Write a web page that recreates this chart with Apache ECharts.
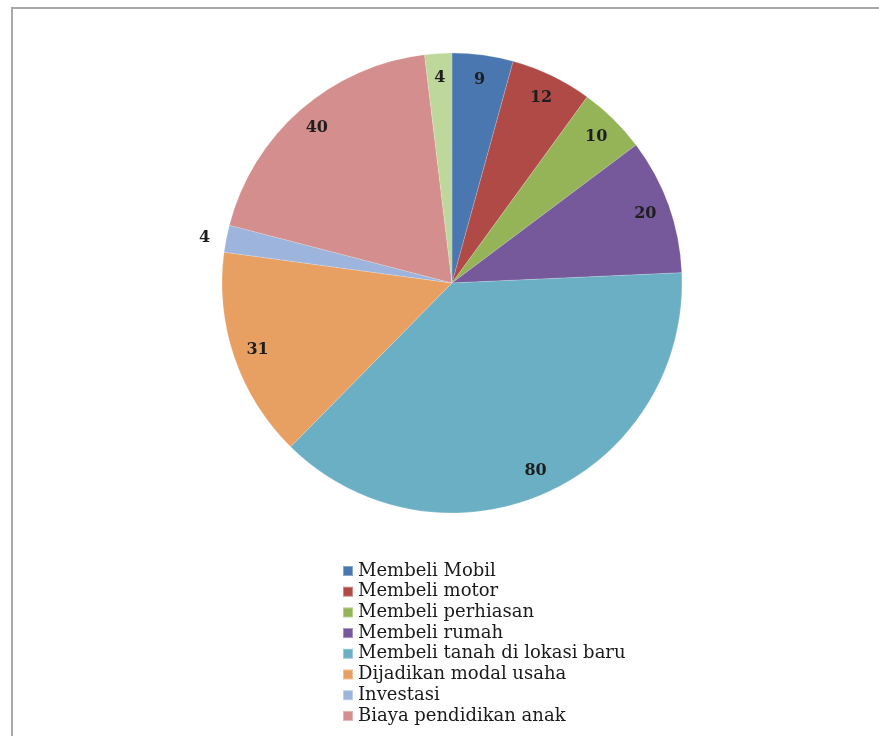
<!DOCTYPE html>
<html>
<head>
<meta charset="utf-8">
<script src="https://cdn.jsdelivr.net/npm/echarts@6/dist/echarts.min.js"></script>
<style>
  html, body { margin: 0; padding: 0; background: #ffffff; }
  #chart { position: absolute; left: 0; top: 0; width: 879px; height: 736px; }
  #frame { position: absolute; left: 11px; top: 7px; width: 880px; height: 740px;
           border-left: 2px solid #a9a9a9; border-top: 2px solid #a9a9a9; pointer-events: none; }
</style>
</head>
<body>
<div id="chart"></div>
<div id="frame"></div>
<script>
const categories = [
  'Membeli Mobil',
  'Membeli motor',
  'Membeli perhiasan',
  'Membeli rumah',
  'Membeli tanah di lokasi baru',
  'Dijadikan modal usaha',
  'Investasi',
  'Biaya pendidikan anak',
  'Lainnya'
];
const values = [9, 12, 10, 20, 80, 31, 4, 40, 4];
const legendNames = categories.slice(0, 8);
const colors = ['#4A77B0', '#B04A47', '#94B457', '#75599A', '#6AAFC4', '#E8A062', '#9DB5DD', '#D48E8D', '#BDD89A'];

const chart = echarts.init(document.getElementById('chart'), null, { renderer: 'canvas' });

const R = 230;
const center = [452, 283];

const baseData = categories.map((n, i) => ({ name: n, value: values[i] }));
const labelData = categories.map((n, i) => {
  const d = { name: n, value: values[i] };
  if (n === 'Investasi') {
    d.label = { position: 'outside', distance: 0 };
    d.labelLine = { show: false, length: 10, length2: 6 };
  }
  return d;
});

chart.setOption({
  backgroundColor: '#ffffff',
  animation: false,
  color: colors,
  legend: {
    data: legendNames,
    orient: 'vertical',
    left: 337,
    top: 556,
    itemWidth: 10,
    itemHeight: 10,
    itemGap: 0.7,
    icon: 'rect',
    selectedMode: false,
    textStyle: { fontFamily: 'DejaVu Serif', fontSize: 18, color: '#1a1a1a', lineHeight: 20 }
  },
  series: [
    {
      type: 'pie',
      center: center,
      radius: [0, R],
      startAngle: 90,
      clockwise: true,
      data: baseData,
      label: { show: false },
      labelLine: { show: false },
      itemStyle: { borderColor: 'rgba(255,255,255,0.35)', borderWidth: 0.5 },
      emphasis: { disabled: true }
    },
    {
      type: 'pie',
      center: center,
      radius: [R * 0.78, R * 0.98],
      startAngle: 90,
      clockwise: true,
      silent: true,
      data: labelData,
      itemStyle: { color: 'rgba(0,0,0,0)' },
      label: {
        show: true,
        position: 'inside',
        formatter: '{c}',
        fontFamily: 'DejaVu Serif',
        fontWeight: 'bold',
        fontSize: 16,
        color: '#1e1e1e'
      },
      labelLine: { show: false },
      emphasis: { disabled: true }
    }
  ]
});
</script>
</body>
</html>
